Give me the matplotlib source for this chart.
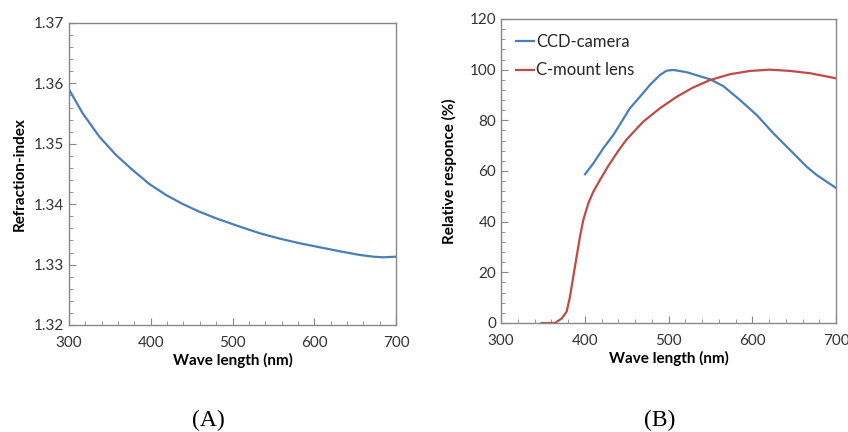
import matplotlib
matplotlib.use("Agg")
import matplotlib.pyplot as plt
from matplotlib.ticker import MultipleLocator

plt.rcParams["font.family"] = ["Lato", "DejaVu Sans"]

# (A) refraction index vs wavelength
wl_a = [300.4, 316.7, 337.1, 357.5, 377.9, 398.3, 418.7, 439.1, 459.5, 479.8,
        504.3, 533.6, 558.1, 582.6, 607.0, 631.5, 656.0, 672.3, 684.6, 700]
n_a = [1.35891, 1.35505, 1.35118, 1.34815, 1.34566, 1.34334, 1.34152, 1.34003,
       1.33876, 1.33767, 1.33650, 1.33518, 1.33429, 1.33352, 1.33286, 1.33220,
       1.33159, 1.33131, 1.33121, 1.33131]

# (B) relative response
wl_ccd = [400.3, 410.2, 422.2, 434.1, 444.1, 454.0, 465.9, 477.9, 489.9, 497.8,
          505.8, 521.7, 535.6, 549.6, 565.5, 585.4, 605.3, 625.2, 645.1, 665.0,
          677.0, 700]
ccd = [58.7, 63.0, 69.0, 74.2, 79.5, 84.8, 89.3, 94.0, 97.9, 99.6, 99.9, 99.0,
       97.6, 96.2, 93.5, 88.0, 82.1, 74.9, 68.3, 61.7, 58.4, 53.3]

wl_lens = [348.6, 364.5, 372.5, 378.4, 382.4, 386.3, 390.3, 394.3, 398.3, 404.3,
           410.2, 418.2, 428.1, 440.1, 450.1, 469.9, 489.9, 509.8, 529.6, 549.6,
           573.4, 597.3, 621.2, 645.1, 669.0, 700]
lens = [0, 0, 1.8, 4.5, 10.4, 18.3, 26.2, 34.1, 40.7, 47.3, 51.8, 56.5, 62.0,
        68.0, 72.5, 79.5, 84.8, 89.3, 93.0, 95.9, 98.2, 99.5, 100.0, 99.5, 98.6,
        96.6]

BLUE = "#4a7ebb"
RED = "#be4b48"
SPINE = "#878787"

fig = plt.figure(figsize=(8.48, 4.32), dpi=100)
ax1 = fig.add_axes([69 / 848, 1 - 325 / 432, 327 / 848, 302 / 432])
ax2 = fig.add_axes([501 / 848, 1 - 323 / 432, 335 / 848, 304 / 432])


def style(ax):
    for s in ax.spines.values():
        s.set_color(SPINE)
        s.set_linewidth(1.0)
    ax.tick_params(which="both", direction="in", color=SPINE, labelsize=11,
                   labelcolor="#333333")
    ax.tick_params(which="major", length=5)
    ax.tick_params(which="minor", length=3)
    ax.tick_params(axis="x", which="major", pad=8)
    ax.xaxis.set_major_locator(MultipleLocator(100))
    ax.xaxis.set_minor_locator(MultipleLocator(20))


ax1.plot(wl_a, n_a, color=BLUE, lw=1.6)
ax1.set_xlim(300, 700)
ax1.set_ylim(1.32, 1.37)
ax1.yaxis.set_major_locator(MultipleLocator(0.01))
ax1.yaxis.set_minor_locator(MultipleLocator(0.002))
ax1.set_yticklabels([f"{v:.2f}" for v in ax1.get_yticks()])
style(ax1)
ax1.set_xlabel("Wave length (nm)", fontsize=11, fontweight="bold", labelpad=2)
ax1.set_ylabel("Refraction-index", fontsize=11, fontweight="bold", labelpad=5)

ax2.plot(wl_ccd, ccd, color=BLUE, lw=1.6, label="CCD-camera")
ax2.plot(wl_lens, lens, color=RED, lw=1.6, label="C-mount lens")
ax2.set_xlim(300, 700)
ax2.set_ylim(0, 120)
ax2.yaxis.set_major_locator(MultipleLocator(20))
ax2.yaxis.set_minor_locator(MultipleLocator(4))
style(ax2)
ax2.set_xlabel("Wave length (nm)", fontsize=11, fontweight="bold", labelpad=2)
ax2.set_ylabel("Relative responce (%)", fontsize=11, fontweight="bold", labelpad=9)
ax2.legend(loc="upper left", frameon=False, fontsize=12, handlelength=1.1,
           handletextpad=0.1, borderaxespad=0.5, labelspacing=0.75,
           labelcolor="#262626")

fig.text(208 / 848, 1 - 420 / 432, "(A)", ha="center", va="center",
         fontsize=17, family="Liberation Serif")
fig.text(660 / 848, 1 - 420 / 432, "(B)", ha="center", va="center",
         fontsize=17, family="Liberation Serif")

fig.savefig("out.png", dpi=100)
